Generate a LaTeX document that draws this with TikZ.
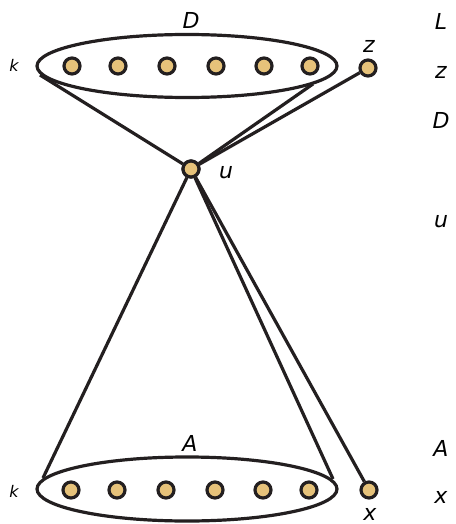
\documentclass[tikz,border=0pt]{standalone}
\usepackage{fontspec}
\setmainfont{DejaVu Sans}
\definecolor{dotfill}{HTML}{E6C27A}
\definecolor{ink}{HTML}{231F20}
\begin{document}
\begin{tikzpicture}[x=1pt,y=-1pt,
  vtx/.style={circle,draw=ink,fill=dotfill,line width=3.2pt,minimum size=16pt,inner sep=0pt},
  edge/.style={draw=ink,line width=3.2pt},
  lab/.style={font=\fontsize{22}{22}\selectfont\itshape,text=black,inner sep=0pt},
  slab/.style={font=\fontsize{16}{16}\selectfont\itshape,text=black,inner sep=0pt}]
\useasboundingbox (0,0) rectangle (455,524);
% top ellipse
\draw[edge] (187,66) ellipse [x radius=150, y radius=31.5];
\foreach \i/\x in {1/72,2/118,3/167,4/216,5/264,6/310}
  \node[vtx] (t\i) at (\x,66) {};
\node[vtx] (z) at (368,68) {};
\node[vtx] (u) at (191,169) {};
\coordinate (tl) at (40,75);
\coordinate (tr) at (313,84);
\draw[edge] (tl) -- (u);
\draw[edge] (tr) -- (u);
\draw[edge] (z) -- (u);
% bottom ellipse
\draw[edge] (187,489) ellipse [x radius=150, y radius=32];
\foreach \i/\x in {1/71,2/117,3/166,4/215,5/263,6/309}
  \node[vtx] (b\i) at (\x,490) {};
\node[vtx] (x) at (369,490) {};
\coordinate (bl) at (43,478);
\coordinate (br) at (333,479);
\draw[edge] (u) -- (bl);
\draw[edge] (u) -- (br);
\draw[edge] (u) -- (x);
\node[vtx] at (u) {};
% labels
\node[lab] (lD) at (191,20) {D};
\node[lab] (lz) at (369,46) {z};
\node[slab] (lk1) at (14,65) {k};
\node[lab] (lu) at (226,173) {u};
\node[lab] (lA) at (190,443) {A};
\node[slab] (lk2) at (14,491) {k};
\node[lab] (lx) at (370,514) {x};
% right column
\node[lab] (rL) at (441,21) {L};
\node[lab] (rz) at (441,72) {z};
\node[lab] (rD) at (441,120) {D};
\node[lab] (ru) at (441,222) {u};
\node[lab] (rA) at (441,448) {A};
\node[lab] (rx) at (441,497) {x};
\end{tikzpicture}
\end{document}
